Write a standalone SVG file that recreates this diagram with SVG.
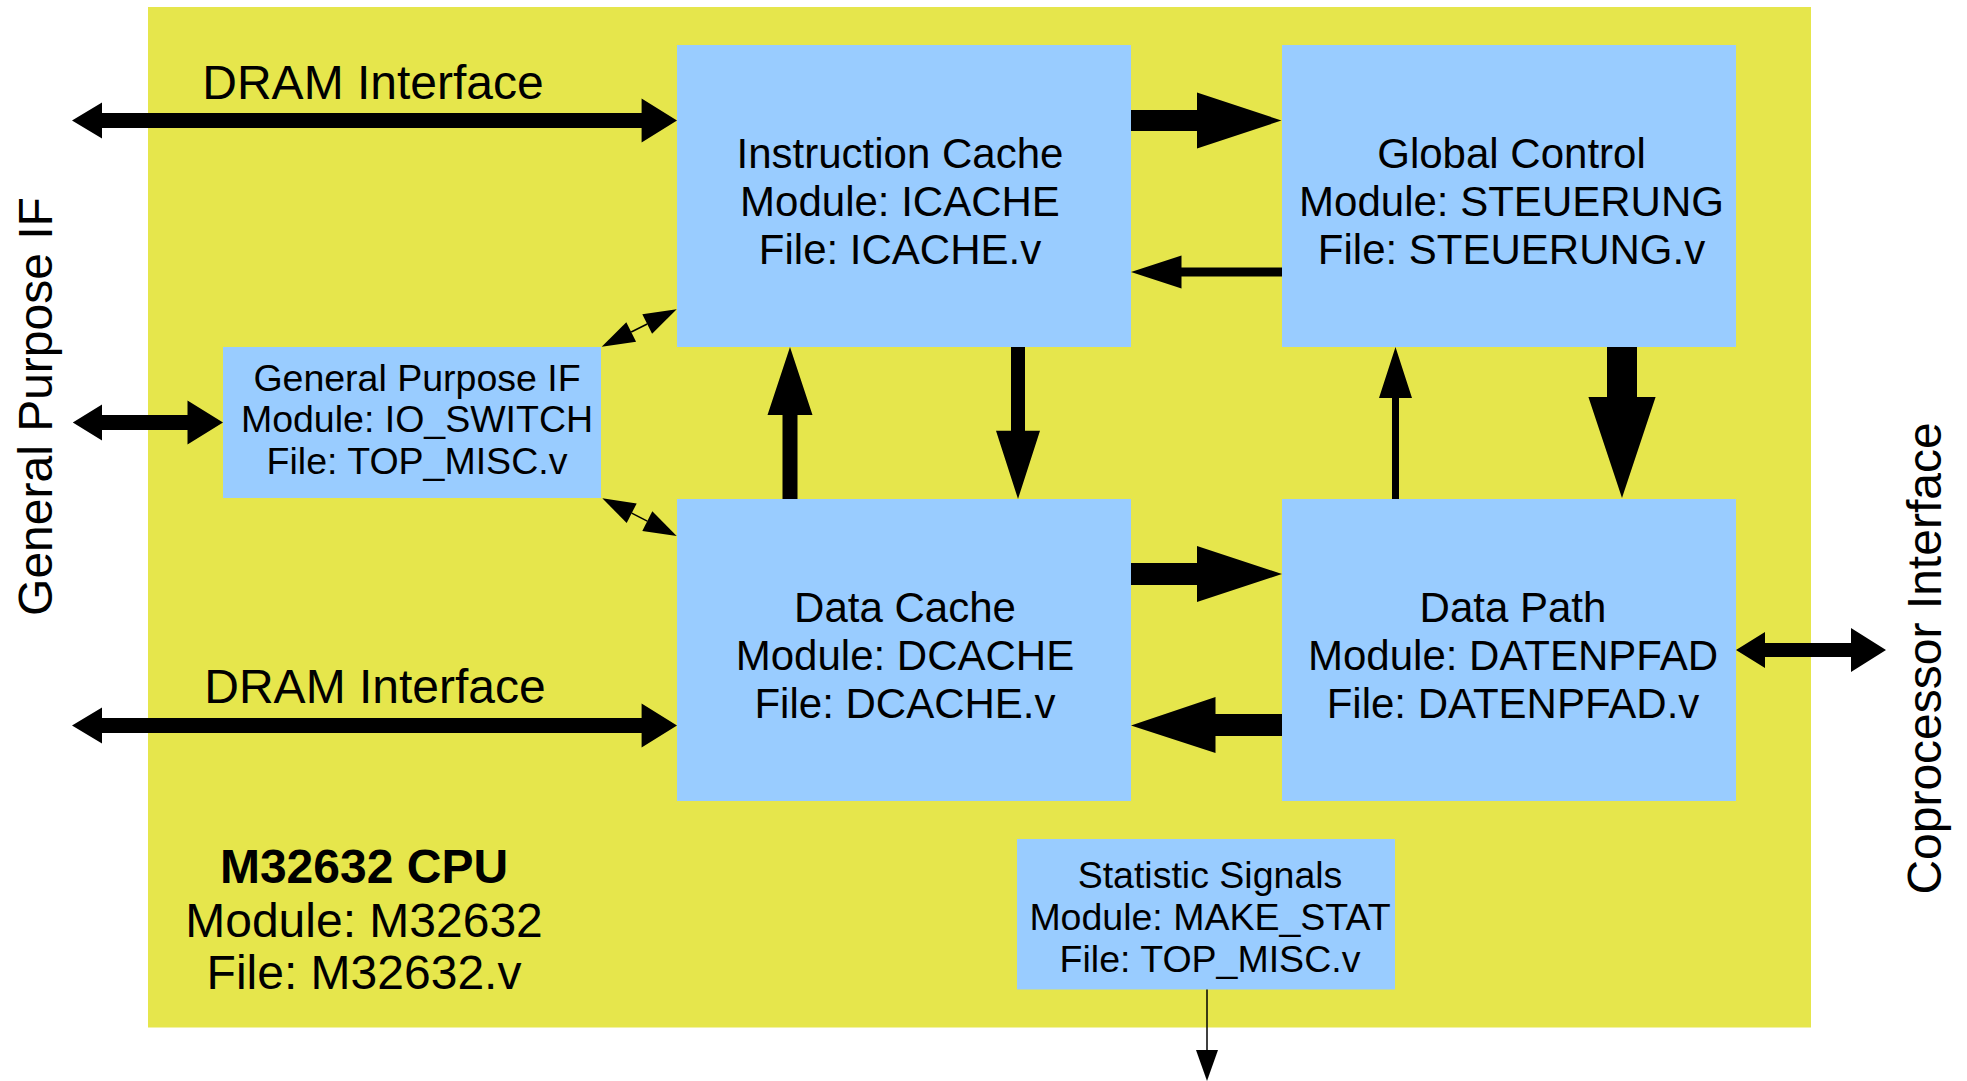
<svg xmlns="http://www.w3.org/2000/svg" width="1967" height="1081" viewBox="0 0 1967 1081">
<style>
.box{fill:#99ccff}
.t{font-family:"Liberation Sans",Arial,sans-serif;fill:#000;text-anchor:middle}
.big{font-size:48px}
.mid{font-size:42px}
.sm{font-size:37.5px}
.arr{fill:#000}
.thin{stroke:#000;stroke-width:1.5;fill:none}
</style>
<rect id="cpu-bg" x="148" y="7" width="1663" height="1020.5" fill="#e6e64c"/>
<g id="cpu-label">
<text class="t big" x="364" y="883" font-weight="bold">M32632 CPU</text>
<text class="t big" x="364" y="937">Module: M32632</text>
<text class="t big" x="364" y="989">File: M32632.v</text>
</g>
<g id="ext-labels">
<text class="t big" x="373" y="99">DRAM Interface</text>
<text class="t big" x="375" y="703">DRAM Interface</text>
<text class="t big" transform="translate(51.7 406.5) rotate(-90)">General Purpose IF</text>
<text class="t big" transform="translate(1941 658.5) rotate(-90)">Coprocessor Interface</text>
</g>
<g id="icache">
<rect class="box" x="677" y="45" width="454" height="302"/>
<text class="t mid" x="900" y="168">Instruction Cache</text>
<text class="t mid" x="900" y="216">Module: ICACHE</text>
<text class="t mid" x="900" y="264">File: ICACHE.v</text>
</g>
<g id="global">
<rect class="box" x="1282" y="45" width="454" height="302"/>
<text class="t mid" x="1511.5" y="168">Global Control</text>
<text class="t mid" x="1511.5" y="216">Module: STEUERUNG</text>
<text class="t mid" x="1511.5" y="264">File: STEUERUNG.v</text>
</g>
<g id="dcache">
<rect class="box" x="677" y="499" width="454" height="302"/>
<text class="t mid" x="905" y="622">Data Cache</text>
<text class="t mid" x="905" y="670">Module: DCACHE</text>
<text class="t mid" x="905" y="718">File: DCACHE.v</text>
</g>
<g id="datapath">
<rect class="box" x="1282" y="499" width="454" height="302"/>
<text class="t mid" x="1513" y="622">Data Path</text>
<text class="t mid" x="1513" y="670">Module: DATENPFAD</text>
<text class="t mid" x="1513" y="718">File: DATENPFAD.v</text>
</g>
<g id="gpif">
<rect class="box" x="223" y="347" width="378" height="151"/>
<text class="t sm" x="417" y="390.5">General Purpose IF</text>
<text class="t sm" x="417" y="432">Module: IO_SWITCH</text>
<text class="t sm" x="417" y="473.5">File: TOP_MISC.v</text>
</g>
<g id="stat">
<rect class="box" x="1017" y="839" width="378" height="150.5"/>
<text class="t sm" x="1210" y="888">Statistic Signals</text>
<text class="t sm" x="1210" y="930">Module: MAKE_STAT</text>
<text class="t sm" x="1210" y="972">File: TOP_MISC.v</text>
</g>
<g id="connectors">
<polygon class="arr" points="72,120.5 102,102.5 102,113 641.6,113 641.6,98.5 677,120.5 641.6,142.5 641.6,128 102,128 102,138.5"/>
<polygon class="arr" points="72,725.5 102,707.5 102,718 641.6,718 641.6,703.5 677,725.5 641.6,747.5 641.6,733 102,733 102,743.5"/>
<polygon class="arr" points="72.8,422.5 102,404.5 102,415 187.5,415 187.5,400.5 223,422.5 187.5,444.5 187.5,430 102,430 102,440.5"/>
<polygon class="arr" points="1131,110 1197,110 1197,92.5 1281.5,120.5 1197,148.5 1197,131 1131,131"/>
<polygon class="arr" points="1282,267.5 1181.5,267.5 1181.5,255.5 1131,272 1181.5,288.5 1181.5,276.5 1282,276.5"/>
<polygon class="arr" points="782.5,499 782.5,415 767.5,415 790,347 812.5,415 797.5,415 797.5,499"/>
<polygon class="arr" points="1011,347 1025,347 1025,430.7 1040,430.7 1018,499 996,430.7 1011,430.7"/>
<polygon class="arr" points="1607,347 1637,347 1637,397 1655.6,397 1622,498 1588.4,397 1607,397"/>
<polygon class="arr" points="1392,499 1392,398 1379,398 1395.5,347 1412,398 1399,398 1399,499"/>
<polygon class="arr" points="1131,563 1197,563 1197,546 1282,574 1197,602 1197,585 1131,585"/>
<polygon class="arr" points="1282,714 1215.5,714 1215.5,697 1131,725.5 1215.5,753 1215.5,736 1282,736"/>
<polygon class="arr" points="1736,650 1765,632 1765,643 1851,643 1851,628 1886,650 1851,672 1851,657 1765,657 1765,668"/>
<line class="thin" x1="631.2" y1="332" x2="647.2" y2="324"/>
<polygon class="arr" points="601.7,346.7 636.1,341.8 626.3,322.2"/>
<polygon class="arr" points="676.7,309.3 652.1,333.8 642.3,314.2"/>
<line class="thin" x1="631.7" y1="513.2" x2="647.3" y2="521.1"/>
<polygon class="arr" points="602.3,498.3 626.7,523 636.7,503.4"/>
<polygon class="arr" points="676.7,536 642.3,530.9 652.3,511.3"/>
<line class="thin" x1="1207" y1="989.5" x2="1207" y2="1051"/>
<polygon class="arr" points="1196,1050 1218,1050 1207,1081"/>
</g>
</svg>
